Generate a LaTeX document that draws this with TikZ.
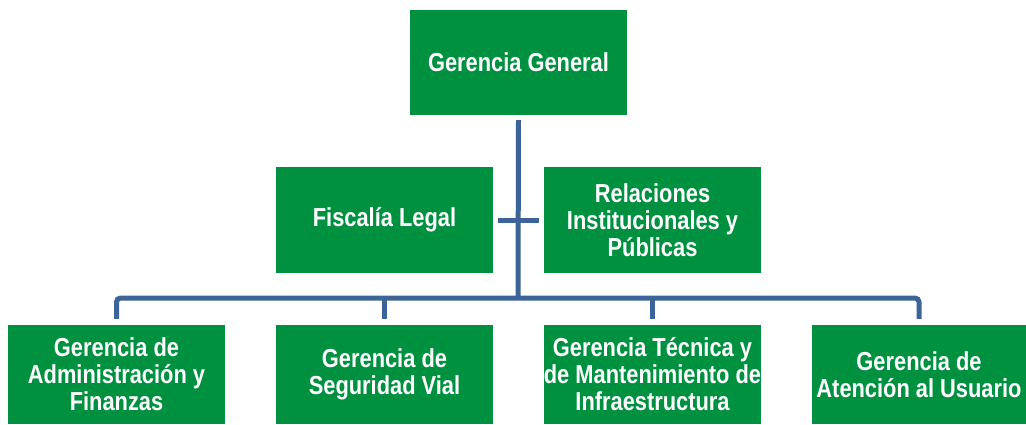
\documentclass[tikz,border=0pt]{standalone}
\usepackage{fontspec}
\setmainfont{Liberation Sans}[FakeStretch=0.84]
\definecolor{boxgreen}{RGB}{0,145,64}
\definecolor{linkblue}{RGB}{60,100,153}
\begin{document}
\begin{tikzpicture}[x=1pt,y=-1pt,
  unit/.style={fill=boxgreen, draw=none, text=white, align=center,
    inner sep=0pt, minimum width=217pt,
    font=\fontsize{26}{27}\selectfont\bfseries},
  conn/.style={draw=linkblue, line width=5pt}]
\useasboundingbox (0,0) rectangle (1026,424);
\fill[white] (0,0) rectangle (1026,424);
\node[unit, minimum height=105pt] (gg) at (518.5,62.5) {Gerencia General};
\node[unit, minimum height=106pt] (fl) at (384.5,220) {Fiscalía Legal};
\node[unit, minimum height=106pt] (ri) at (652.5,220) {Relaciones\\Institucionales y\\Públicas};
\node[unit, minimum height=99pt] (b1) at (116.5,374.5) {Gerencia de\\Administración y\\Finanzas};
\node[unit, minimum height=99pt] (b2) at (384.5,374.5) {Gerencia de\\Seguridad Vial};
\node[unit, minimum height=99pt] (b3) at (652.5,374.5) {Gerencia Técnica y\\de Mantenimiento de\\Infraestructura};
\node[unit, minimum height=99pt, minimum width=214pt] (b4) at (919,374.5) {Gerencia de\\Atención al Usuario};
\coordinate (bar) at (518,298);
\draw[conn] ([yshift=-5pt]gg.south) -- (bar);
\draw[conn] ([xshift=5pt]fl.east) -- ([xshift=-5pt]ri.west);
\draw[conn, rounded corners=4pt] ([yshift=6pt]b1.north) |- (bar) -| ([yshift=6pt]b4.north);
\draw[conn] ([yshift=6pt]b2.north) -- (b2.north |- bar);
\draw[conn] ([yshift=6pt]b3.north) -- (b3.north |- bar);
\end{tikzpicture}
\end{document}
